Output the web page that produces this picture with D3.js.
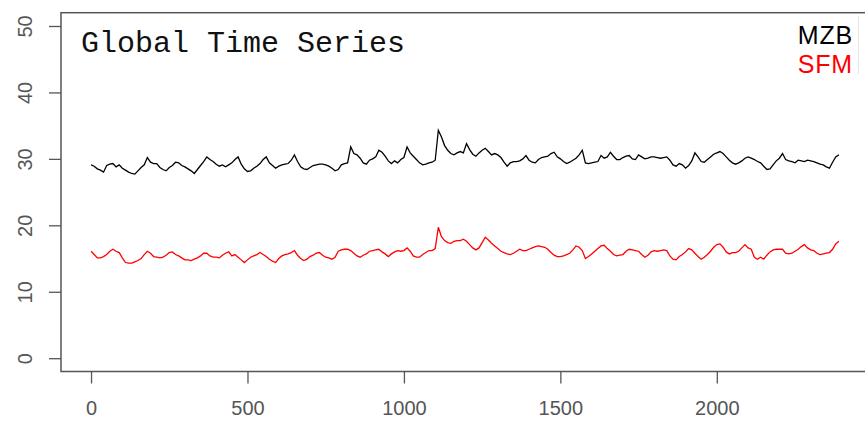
<!DOCTYPE html>
<html>
<head>
<meta charset="utf-8">
<script src="https://cdn.jsdelivr.net/npm/d3@7"></script>
<style>
  body { margin: 0; background: #fff; }
  svg { display: block; }
</style>
</head>
<body>
<div id="chart"></div>
<script>
// index step between readings (series runs 0..2390)
const step = 10;

const mzb = [
  29.1, 28.9, 28.5, 28.3, 28.0, 29.0, 29.2, 29.3, 28.8, 29.1,
  28.6, 28.3, 28.0, 27.8, 27.7, 28.2, 28.7, 29.1, 30.2, 29.5,
  29.3, 29.3, 28.7, 28.4, 28.2, 28.7, 29.0, 29.5, 29.4, 29.0,
  28.8, 28.5, 28.2, 27.8, 28.4, 29.0, 29.6, 30.3, 29.9, 29.6,
  29.2, 28.9, 29.1, 28.8, 29.1, 29.4, 29.9, 30.3, 29.2, 28.5,
  28.1, 28.2, 28.6, 28.9, 29.3, 29.9, 30.3, 29.4, 29.0, 28.6,
  28.9, 29.1, 29.2, 29.3, 29.8, 30.6, 29.6, 28.8, 28.5, 28.4,
  28.7, 29.0, 29.1, 29.2, 29.2, 29.1, 28.9, 28.6, 28.2, 28.4,
  29.1, 29.3, 29.4, 31.8, 30.8, 30.6, 30.1, 29.4, 29.2, 29.8,
  30.0, 30.3, 31.3, 31.0, 30.4, 29.7, 29.3, 29.7, 29.4, 29.9,
  30.2, 31.8, 30.9, 30.4, 29.9, 29.4, 29.1, 29.2, 29.4, 29.5,
  29.8, 34.3, 33.3, 32.0, 31.3, 30.8, 30.6, 30.9, 31.1, 30.9,
  32.3, 31.4, 30.7, 30.4, 30.9, 31.3, 31.6, 31.1, 30.6, 30.8,
  30.6, 30.2, 29.5, 28.9, 29.4, 29.6, 29.6, 29.7, 30.0, 30.5,
  29.8, 29.5, 29.4, 29.9, 30.2, 30.3, 30.4, 30.8, 31.0, 30.3,
  30.0, 29.6, 29.3, 29.5, 29.8, 30.1, 30.6, 31.3, 29.4, 29.3,
  29.4, 29.5, 29.6, 30.5, 30.1, 30.3, 31.0, 30.4, 29.9, 29.9,
  30.2, 30.4, 30.5, 30.0, 29.9, 30.6, 30.3, 30.0, 30.1, 30.3,
  30.3, 30.2, 30.1, 30.2, 30.3, 29.8, 29.1, 28.9, 29.3, 29.1,
  28.6, 29.0, 29.7, 30.9, 30.3, 29.6, 29.5, 29.9, 30.3, 30.7,
  30.9, 31.1, 30.8, 30.3, 29.8, 29.4, 29.2, 29.4, 29.7, 30.1,
  30.3, 30.1, 29.9, 29.6, 29.4, 28.9, 28.4, 28.5, 29.1, 29.7,
  30.1, 30.8, 29.9, 29.7, 29.6, 29.4, 29.8, 29.7, 29.6, 29.8,
  29.7, 29.6, 29.4, 29.2, 29.1, 28.8, 28.6, 29.5, 30.3, 30.6
];

const sfm = [
  16.1, 15.6, 15.1, 15.1, 15.3, 15.6, 16.1, 16.4, 16.1, 15.9,
  15.1, 14.4, 14.3, 14.3, 14.5, 14.7, 15.0, 15.6, 16.1, 15.8,
  15.3, 15.2, 15.1, 15.2, 15.5, 15.9, 16.0, 15.6, 15.4, 15.1,
  14.8, 14.8, 14.7, 14.9, 15.1, 15.4, 15.8, 15.8, 15.4, 15.2,
  15.2, 15.1, 15.5, 15.8, 16.0, 15.4, 15.6, 15.2, 14.8, 14.4,
  14.8, 15.2, 15.4, 15.6, 15.9, 15.6, 15.3, 14.9, 14.6, 14.4,
  15.0, 15.4, 15.6, 15.7, 15.9, 16.2, 15.5, 15.0, 14.7, 14.9,
  15.3, 15.5, 15.8, 15.9, 15.5, 15.2, 15.1, 14.9, 15.2, 16.1,
  16.3, 16.4, 16.4, 16.2, 15.8, 15.4, 15.2, 15.5, 15.7, 16.1,
  16.2, 16.3, 16.4, 16.0, 15.7, 15.3, 15.7, 16.0, 16.2, 16.1,
  16.2, 16.6, 16.1, 15.4, 15.2, 15.2, 15.6, 15.9, 16.2, 16.2,
  16.5, 19.7, 18.3, 17.7, 17.4, 17.3, 17.6, 17.7, 17.7, 17.9,
  17.6, 17.1, 16.6, 16.3, 16.6, 17.4, 18.2, 17.8, 17.3, 16.9,
  16.5, 16.1, 15.9, 15.7, 15.6, 15.8, 16.1, 16.4, 16.2, 16.2,
  16.4, 16.6, 16.8, 16.9, 16.8, 16.7, 16.4, 15.9, 15.5, 15.3,
  15.3, 15.4, 15.6, 15.8, 16.3, 16.9, 16.7, 16.2, 15.0, 15.3,
  15.7, 16.1, 16.5, 16.9, 17.0, 16.5, 16.1, 15.6, 15.4, 15.5,
  15.6, 16.1, 16.4, 16.3, 16.2, 16.1, 15.6, 15.2, 15.5, 16.0,
  16.2, 16.1, 16.2, 16.3, 16.2, 15.4, 14.9, 14.8, 15.3, 15.6,
  16.0, 16.5, 16.3, 15.8, 15.3, 14.9, 15.2, 15.6, 16.1, 16.7,
  17.1, 17.2, 16.7, 16.0, 15.7, 15.9, 15.9, 16.1, 16.6, 17.1,
  16.6, 16.4, 15.2, 14.9, 15.2, 14.9, 15.5, 16.0, 16.3, 16.4,
  16.4, 16.4, 15.8, 15.7, 15.8, 16.1, 16.4, 16.8, 17.1, 16.6,
  16.3, 16.2, 15.8, 15.6, 15.7, 15.8, 15.9, 16.4, 17.2, 17.6
];

const xTicks = [0, 500, 1000, 1500, 2000];
const yTicks = [0, 10, 20, 30, 40, 50];
const seriesNames = ["MZB", "SFM"];
const seriesColors = ["#000000", "#ff0000"];

const width = 865;
const height = 421;

const x = d3.scaleLinear()
  .domain([-96, 2496])
  .range([61, 872]);

const y = d3.scaleLinear()
  .domain([-2, 52])
  .range([371.5, 12.7]);

const svg = d3.select("#chart")
  .append("svg")
  .attr("width", width)
  .attr("height", height);

const line = d3.line()
  .x((d, i) => x(i * step))
  .y(d => y(d));

svg.append("path")
  .datum(mzb)
  .attr("fill", "none")
  .attr("stroke", seriesColors[0])
  .attr("stroke-width", 1.3)
  .attr("d", line);

svg.append("path")
  .datum(sfm)
  .attr("fill", "none")
  .attr("stroke", seriesColors[1])
  .attr("stroke-width", 1.3)
  .attr("d", line);

// plot box (right edge falls outside the picture)
svg.append("rect")
  .attr("x", x(-96))
  .attr("y", y(52))
  .attr("width", x(2496) - x(-96))
  .attr("height", y(-2) - y(52))
  .attr("fill", "none")
  .attr("stroke", "#555")
  .attr("stroke-width", 1.5);

const xAxis = svg.append("g")
  .attr("transform", `translate(0,${y(-2)})`)
  .call(d3.axisBottom(x).tickValues(xTicks).tickFormat(d3.format("d"))
    .tickSize(12).tickPadding(17).tickSizeOuter(0));

const yAxis = svg.append("g")
  .attr("transform", `translate(${x(-96)},0)`)
  .call(d3.axisLeft(y).tickValues(yTicks).tickFormat(d3.format("d"))
    .tickSize(12).tickSizeOuter(0));

[xAxis, yAxis].forEach(g => {
  g.select(".domain").remove();
  g.selectAll(".tick line").attr("stroke", "#555").attr("stroke-width", 1.3);
  g.selectAll(".tick text")
    .attr("fill", "#555")
    .style("font-family", "Arial, 'Liberation Sans', sans-serif")
    .style("font-size", "20px");
});

yAxis.selectAll(".tick text")
  .attr("x", 0)
  .attr("y", -29)
  .attr("dy", null)
  .attr("text-anchor", "middle")
  .attr("transform", "rotate(-90)");

svg.append("text")
  .attr("x", 81)
  .attr("y", 52)
  .style("font-family", "'Courier New', 'Liberation Mono', monospace")
  .style("font-size", "30px")
  .attr("fill", "#111")
  .text("Global Time Series");

// legend
svg.append("line")
  .attr("x1", 858.5).attr("x2", 858.5)
  .attr("y1", 16).attr("y2", 74)
  .attr("stroke", "#e4e4e4");

svg.selectAll(".legend")
  .data(seriesNames)
  .enter()
  .append("text")
  .attr("class", "legend")
  .attr("x", 853)
  .attr("y", (d, i) => 44 + i * 29)
  .attr("text-anchor", "end")
  .attr("fill", (d, i) => seriesColors[i])
  .style("font-family", "Arial, 'Liberation Sans', sans-serif")
  .style("font-size", "25px")
  .style("letter-spacing", "0.8px")
  .text(d => d);
</script>
</body>
</html>
